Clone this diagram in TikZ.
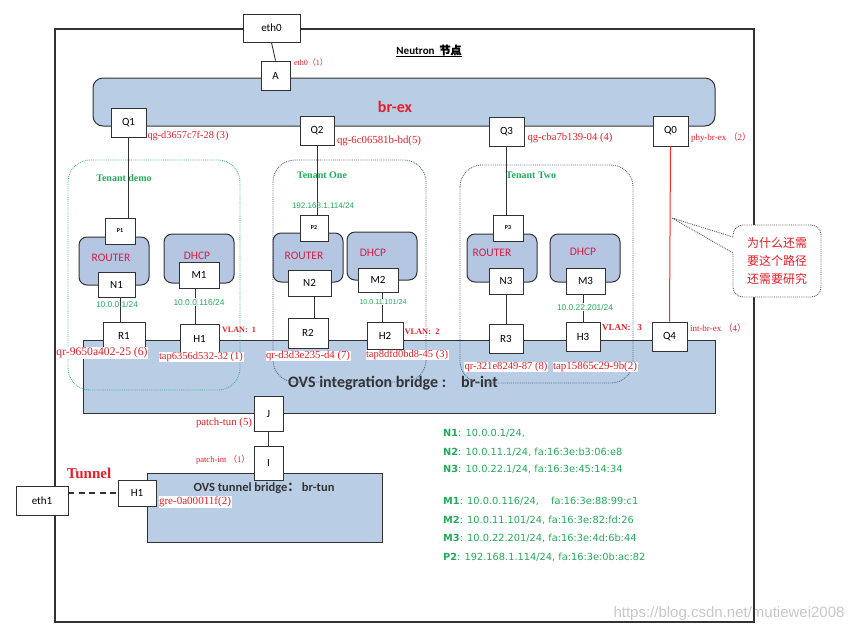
\documentclass[tikz,border=0pt]{standalone}
\usepackage{fontspec}
\usepackage{graphicx}
\setmainfont{Carlito}
\newfontfamily\lab{Liberation Serif}
\newfontfamily\cjk{Noto Sans CJK SC}
\newfontfamily\cjkb[FakeBold=1.5]{Noto Sans CJK SC}
\newfontfamily\grn{Liberation Sans}
\newfontfamily\lst{DejaVu Sans}
\definecolor{brfill}{RGB}{185,205,229}
\definecolor{boxfill}{RGB}{180,198,226}
\definecolor{lred}{RGB}{230,30,40}
\definecolor{rtred}{RGB}{215,30,70}
\definecolor{lgreen}{RGB}{34,170,90}
\definecolor{tgreen}{RGB}{70,185,140}
\definecolor{tblue}{RGB}{85,105,140}
\definecolor{edge}{RGB}{50,50,50}
\newcommand\fs[1]{\fontsize{#1}{#1}\selectfont}
\newcommand\rw[2]{\resizebox{#1pt}{!}{#2}}
\tikzset{
 port/.style={draw=edge, fill=white, line width=0.9pt, inner sep=0pt, font=\fs{11}},
 conn/.style={draw=edge, line width=0.9pt},
 bridge/.style={draw=edge, fill=brfill, line width=1pt},
 nsbox/.style={draw=edge, fill=boxfill, line width=1pt, rounded corners=8pt, inner sep=0pt},
 tenantg/.style={draw=tgreen, densely dotted, line width=0.9pt, rounded corners=22pt},
 tenantb/.style={draw=tblue, densely dotted, line width=0.9pt, rounded corners=22pt},
 rlab/.style={text=lred, font=\lab\fs{10}, inner sep=0.5pt, fill=white},
 glab/.style={text=lgreen, font=\grn\fs{7.5}, inner sep=0.5pt},
 nslab/.style={text=rtred, font=\fs{11.5}, inner sep=0pt},
 vlan/.style={text=lred, font=\lab\bfseries\fs{8}, inner sep=0pt},
 tlab/.style={text=lgreen, font=\lab\bfseries\fs{10}, inner sep=0pt},
 listline/.style={text=lgreen, font=\lst\fs{9.8}, anchor=west, inner sep=0pt},
}
\begin{document}
\begin{tikzpicture}[x=1pt,y=-1pt]
\useasboundingbox (0,0) rectangle (859,633);
% watermark
\node[text=black!22, font=\grn\fs{15}, inner sep=0] (wm) at (729,614) {https://blog.csdn.net/mutiewei2008};
% outer frame
\draw[draw=edge, line width=1.1pt] (55,29) rectangle (754,622);
\node[font=\bfseries\fs{11}, inner sep=0] (title) at (429,51) {\underline{Neutron\ \ {\cjkb 节点}}};
% bridges
\draw[bridge, rounded corners=10pt] (93,78) rectangle (715,126);
\node[text=lred, font=\bfseries\fs{16}, inner sep=0] (brex) at (395,107) {br-ex};
\draw[bridge] (83,340) rectangle (715,413);
\node[text=edge, font=\bfseries\fs{16}, inner sep=0, anchor=west] (brint) at (288,383) {OVS integration bridge :\hspace{15pt}br-int};
\draw[bridge] (147,473) rectangle (382,542);
\node[text=edge, font=\bfseries\fs{12.5}, inner sep=0] (brtun) at (264,488) {OVS tunnel bridge{\cjk ：}\hspace{2pt}br-tun};
% tenants
\draw[tenantg] (68,160) rectangle (240,390);
\draw[tenantb] (273,160) rectangle (426,382);
\draw[tenantb] (460,165) rectangle (633,383);
% namespaces
\node[nsbox, minimum width=70, minimum height=48] (rt1) at (114,261) {};
\node[nsbox, minimum width=70, minimum height=49] (dh1) at (199,258.5) {};
\node[nsbox, minimum width=70, minimum height=49] (rt2) at (308,257.5) {};
\node[nsbox, minimum width=70, minimum height=48] (dh2) at (382,256) {};
\node[nsbox, minimum width=70, minimum height=48] (rt3) at (502,258) {};
\node[nsbox, minimum width=70, minimum height=48] (dh3) at (585,258) {};
\node[nslab] (rt1t) at (111,258) {ROUTER};
\node[nslab] (dh1t) at (197,256) {DHCP};
\node[nslab] (rt2t) at (304,256) {ROUTER};
\node[nslab] (dh2t) at (373,253) {DHCP};
\node[nslab] (rt3t) at (492,253) {ROUTER};
\node[nslab] (dh3t) at (583,252) {DHCP};
\node[tlab] (t1) at (124,178) {Tenant demo};
\node[tlab] (t2) at (322,175) {Tenant One};
\node[tlab] (t3) at (531,175) {Tenant Two};
% ports
\node[port, minimum width=57, minimum height=28] (eth0) at (271.5,28) {eth0};
\node[port, minimum width=29, minimum height=29] (A) at (275.5,75.5) {A};
\node[port, minimum width=35, minimum height=29] (Q1) at (128.5,122.5) {Q1};
\node[port, minimum width=34, minimum height=29] (Q2) at (317,130.5) {Q2};
\node[port, minimum width=35, minimum height=29] (Q3) at (506.5,131.5) {Q3};
\node[port, minimum width=35, minimum height=30] (Q0) at (670.5,131) {Q0};
\node[port, minimum width=30, minimum height=26, font=\bfseries\fs{6}] (P1) at (120,231) {P1};
\node[port, minimum width=37, minimum height=25] (N1) at (116.5,284.5) {N1};
\node[port, minimum width=40, minimum height=26] (M1) at (199,275) {M1};
\node[port, minimum width=42, minimum height=27] (R1) at (124,335.5) {R1};
\node[port, minimum width=39, minimum height=29] (H1) at (199.5,338.5) {H1};
\node[port, minimum width=28, minimum height=26, font=\bfseries\fs{6}] (P2) at (314,228) {P2};
\node[port, minimum width=43, minimum height=26] (N2) at (309.5,283) {N2};
\node[port, minimum width=40, minimum height=24] (M2) at (378,280) {M2};
\node[port, minimum width=40, minimum height=30] (R2) at (308,333) {R2};
\node[port, minimum width=36, minimum height=27] (H2) at (385,335.5) {H2};
\node[port, minimum width=30, minimum height=26, font=\bfseries\fs{6}] (P3) at (508,228) {P3};
\node[port, minimum width=34, minimum height=26] (N3) at (506,281) {N3};
\node[port, minimum width=39, minimum height=26] (M3) at (585.5,281) {M3};
\node[port, minimum width=34, minimum height=29] (R3) at (506,338.5) {R3};
\node[port, minimum width=34, minimum height=29] (H3) at (583,336.5) {H3};
\node[port, minimum width=35, minimum height=29] (Q4) at (669.5,336.5) {Q4};
\node[port, minimum width=29, minimum height=35] (J) at (268.5,413.5) {J};
\node[port, minimum width=29, minimum height=34] (I) at (268.5,463) {I};
\node[port, minimum width=38, minimum height=26] (H1t) at (137,493) {H1};
\node[port, minimum width=52, minimum height=29] (eth1) at (42,500.5) {eth1};
% connectors
\draw[conn] (eth0.south) -- (A.north);
\draw[conn] (Q1.south) -- (Q1.south |- P1.north);
\draw[conn] ([xshift=3.5pt]N1.south) -- ([xshift=-4pt]R1.north);
\draw[conn] ([xshift=-4pt]M1.south) -- ([xshift=-4.5pt]H1.north);
\draw[conn] (Q2.south) -- (Q2.south |- P2.north);
\draw[conn] ([xshift=4.5pt]N2.south) -- ([xshift=6pt]R2.north);
\draw[conn] ([xshift=4pt]M2.south) -- ([xshift=-3pt]H2.north);
\draw[conn] (Q3.south) -- (Q3.south |- P3.north);
\draw[conn] (N3.south) -- (R3.north);
\draw[conn] (M3.south -| H3.north) -- (H3.north);
\draw[conn] (J.south) -- (I.north);
\draw[draw=red!85, line width=1pt] (Q0.south) -- (Q4.north);
\draw[draw=edge, line width=1.6pt, dash pattern=on 6pt off 4.5pt] (eth1.east |- H1t.west) -- (H1t.west);
% green address labels
\node[glab] (a1) at (117,304) {\rw{42}{10.0.0.1/24}};
\node[glab, fill=white] (a2) at (199,302) {\rw{51}{10.0.0.116/24}};
\node[glab] (a3) at (323,206) {\rw{62}{192.168.1.114/24}};
\node[glab, fill=white] (a4) at (383,302) {\rw{47}{10.0.11.101/24}};
\node[glab, fill=white] (a5) at (585,307) {\rw{56}{10.0.22.201/24}};
% red port labels
\node[rlab] (lA) at (311,62) {\rw{34}{eth0{\cjk（}1{\cjk）}}};
\node[rlab] (lQ1) at (188,136) {\rw{81}{qg-d3657c7f-28 (3)}};
\node[rlab] (lQ2) at (379,141) {\rw{84}{qg-6c06581b-bd(5)}};
\node[rlab] (lQ3) at (570,138) {\rw{85}{qg-cba7b139-04 (4)}};
\node[rlab] (lQ0) at (721,138) {\rw{60}{phy-br-ex {\cjk（}2{\cjk）}}};
\node[rlab] (lR1) at (102,353) {\rw{91}{qr-9650a402-25 (6)}};
\node[rlab] (lH1) at (201,357) {\rw{84}{tap6356d532-32 (1)}};
\node[rlab] (lR2) at (308,356) {\rw{84}{qr-d3d3e235-d4 (7)}};
\node[rlab] (lH2) at (407,355) {\rw{82}{tap8dfd0bd8-45 (3)}};
\node[rlab] (lR3) at (506,367) {\rw{83}{qr-321e8249-87 (8)}};
\node[rlab] (lH3) at (595,367) {\rw{84}{tap15865c29-9b(2)}};
\node[rlab] (lQ4) at (718,328) {\rw{56}{int-br-ex {\cjk（}4{\cjk）}}};
\node[rlab] (lJ) at (224,423) {\rw{56}{patch-tun (5)}};
\node[rlab] (lI) at (223,460) {\rw{54}{patch-int {\cjk（}1{\cjk）}}};
\node[rlab] (lH1t) at (195,502) {\rw{72}{gre-0a00011f(2)}};
\node[vlan] (v1) at (239,330) {\rw{34}{VLAN: \ 1}};
\node[vlan] (v2) at (422,332) {\rw{35}{VLAN: \ 2}};
\node[vlan] (v3) at (622,328) {\rw{40}{VLAN: \ \ 3}};
\node[text=lred, font=\lab\bfseries\fs{15}, inner sep=0] (tun) at (89,473) {Tunnel};
% callout
\node[draw=edge!80, densely dotted, line width=0.9pt, rounded corners=10pt, fill=white, minimum width=88, minimum height=72, align=center, text=lred, font=\cjk\fontsize{12}{18}\selectfont, inner sep=0] (callout) at (777,261) {为什么还需\\要这个路径\\还需要研究};
\coordinate (tip) at (672,218);
\coordinate (pa) at (733,237);
\coordinate (pb) at (733,253);
\fill[white] (735,236) -- (tip) -- (735,254) -- cycle;
\draw[draw=edge!80, densely dotted, line width=0.9pt] (pa) -- (tip) -- (pb);
% address list
\node[listline] (l1) at (443,433) {\textbf{N1}: 10.0.0.1/24,};
\node[listline] (l2) at (443,452) {\textbf{N2}: 10.0.11.1/24, fa:16:3e:b3:06:e8};
\node[listline] (l3) at (443,469) {\textbf{N3}: 10.0.22.1/24, fa:16:3e:45:14:34};
\node[listline] (l4) at (443,501) {\textbf{M1}: 10.0.0.116/24,\hspace{12pt}fa:16:3e:88:99:c1};
\node[listline] (l5) at (443,520) {\textbf{M2}: 10.0.11.101/24, fa:16:3e:82:fd:26};
\node[listline] (l6) at (443,538) {\textbf{M3}: 10.0.22.201/24, fa:16:3e:4d:6b:44};
\node[listline] (l7) at (443,557) {\textbf{P2}: 192.168.1.114/24, fa:16:3e:0b:ac:82};
\end{tikzpicture}
\end{document}
